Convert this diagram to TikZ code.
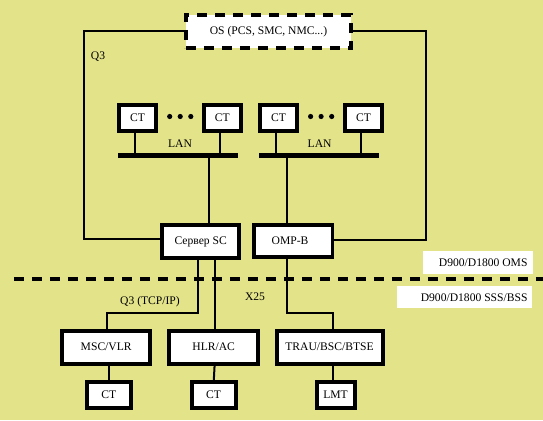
\documentclass[tikz,border=0pt]{standalone}
\usepackage{fontspec}
\setmainfont{Liberation Serif}
\definecolor{bgyellow}{RGB}{227,227,138}
\begin{document}
\begin{tikzpicture}[x=1pt,y=-1pt,
  every node/.style={font=\fontsize{11.6}{13}\selectfont},
  box/.style={draw=black, fill=white, line width=4pt, inner sep=0pt, outer sep=0pt},
  osbox/.style={draw=black, fill=white, line width=4pt, dash pattern=on 10pt off 8pt, inner sep=0pt, outer sep=0pt},
  bus/.style={fill=black, inner sep=0pt, outer sep=0pt, minimum height=5pt},
  wire/.style={line width=2pt, black},
  lbl/.style={inner sep=0pt},
  dot/.style={fill=black}
]
\useasboundingbox (0,0) rectangle (543,420);
\fill[bgyellow] (0,0) rectangle (543,420);

% OS box
\node[osbox, minimum width=165pt, minimum height=33pt] (os) at (268.5,31.5) {OS (PCS, SMC, NMC...)};

% top CTs
\node[box, minimum width=37pt, minimum height=26pt] (ct1) at (137.5,117.5) {CT};
\node[box, minimum width=37pt, minimum height=26pt] (ct2) at (222.3,117.5) {CT};
\node[box, minimum width=37pt, minimum height=26pt] (ct3) at (278.5,117.5) {CT};
\node[box, minimum width=37pt, minimum height=26pt] (ct4) at (363.6,117.5) {CT};
\foreach \x in {169.7,180.2,190.8,310.6,321.1,331.7}{\fill[dot] (\x,116.5) circle (2.6pt);}

% buses
\node[bus, minimum width=120pt] (bus1) at (177.6,155) {};
\node[bus, minimum width=119.5pt] (bus2) at (318.8,155) {};
\node[lbl] (lan1) at (180,144) {LAN};
\node[lbl] (lan2) at (319.6,144) {LAN};

% servers
\node[box, minimum width=77pt, minimum height=33pt, line width=4.5pt] (sc) at (200.7,241.5) {Сервер SC};
\node[box, minimum width=78.5pt, minimum height=32pt, line width=3.5pt] (omp) at (293,240.8) {\hspace*{-6pt}OMP-B};

% connectors CT to bus
\draw[wire] ([xshift=-2.5pt]ct1.south) -- ([xshift=-2.5pt]ct1.south |- bus1.north);
\draw[wire] ([xshift=-2.3pt]ct2.south) -- ([xshift=-2.3pt]ct2.south |- bus1.north);
\draw[wire] ([xshift=-2.5pt]ct3.south) -- ([xshift=-2.5pt]ct3.south |- bus2.north);
\draw[wire] ([xshift=-2.6pt]ct4.south) -- ([xshift=-2.6pt]ct4.south |- bus2.north);

% bus to servers
\coordinate (b1d) at (208.8,157.5);
\coordinate (b2d) at (287.4,157.5);
\draw[wire] (b1d) -- (b1d |- sc.north);
\draw[wire] (b2d) -- (b2d |- omp.north);

% Q3 loops
\draw[wire] (os.west) -| (84,239.3) -- (sc.west |- 0,239.3);
\draw[wire] (os.east) -| (425.9,240) -- (omp.east |- 0,240);
\node[lbl] (q3) at (98,57) {Q3};

% label boxes
\fill[white] (423.3,250.7) rectangle (533.3,274.3);
\node[lbl, anchor=east] (omslbl) at (527.7,263) {D900/D1800 OMS};
\fill[white] (396.7,285.7) rectangle (531.7,308.3);
\node[lbl, anchor=east] (ssslbl) at (527.7,297.5) {D900/D1800 SSS/BSS};

% lower boxes
\node[box, minimum width=88.5pt, minimum height=33pt] (msc) at (106.2,347) {MSC/VLR};
\node[box, minimum width=89.5pt, minimum height=33pt] (hlr) at (213.7,347) {HLR/AC};
\node[box, minimum width=106pt, minimum height=33pt] (trau) at (329.5,347) {TRAU/BSC/BTSE};
\node[box, minimum width=44pt, minimum height=26pt] (bct1) at (108.7,395) {CT};
\node[box, minimum width=44pt, minimum height=26pt] (bct2) at (213.6,395) {CT};
\node[box, minimum width=38pt, minimum height=26pt] (lmt) at (335.5,395) {LMT};

% lower connectors
\coordinate (scd1) at (197.5,313.3);
\draw[wire] (scd1 |- sc.south) -- (scd1) -| ([xshift=1.1pt]msc.north);
\coordinate (scd2) at (214.6,259);
\draw[wire] (scd2 |- sc.south) -- (scd2 |- hlr.north);
\coordinate (ompd) at (287.4,313.3);
\draw[wire] (ompd |- omp.south) -- (ompd) -| ([xshift=3.5pt]trau.north);
\draw[wire] ([xshift=3.1pt]msc.south) -- ([xshift=0.6pt]bct1.north);
\draw[wire] ([xshift=1pt]hlr.south) -- ([xshift=0.1pt]bct2.north);
\draw[wire] ([xshift=3.5pt]trau.south) -- ([xshift=-2.5pt]lmt.north);

\node[lbl] (q3tcp) at (150,302) {Q3 (TCP/IP)};
\node[lbl] (x25) at (255,297) {X25};

% dashed separator
\coordinate (dl) at (13.8,279.3);
\coordinate (dr) at (543,279.3);
\draw[line width=4.2pt, dash pattern=on 10pt off 8pt] (dl) -- (dr);
\end{tikzpicture}
\end{document}
